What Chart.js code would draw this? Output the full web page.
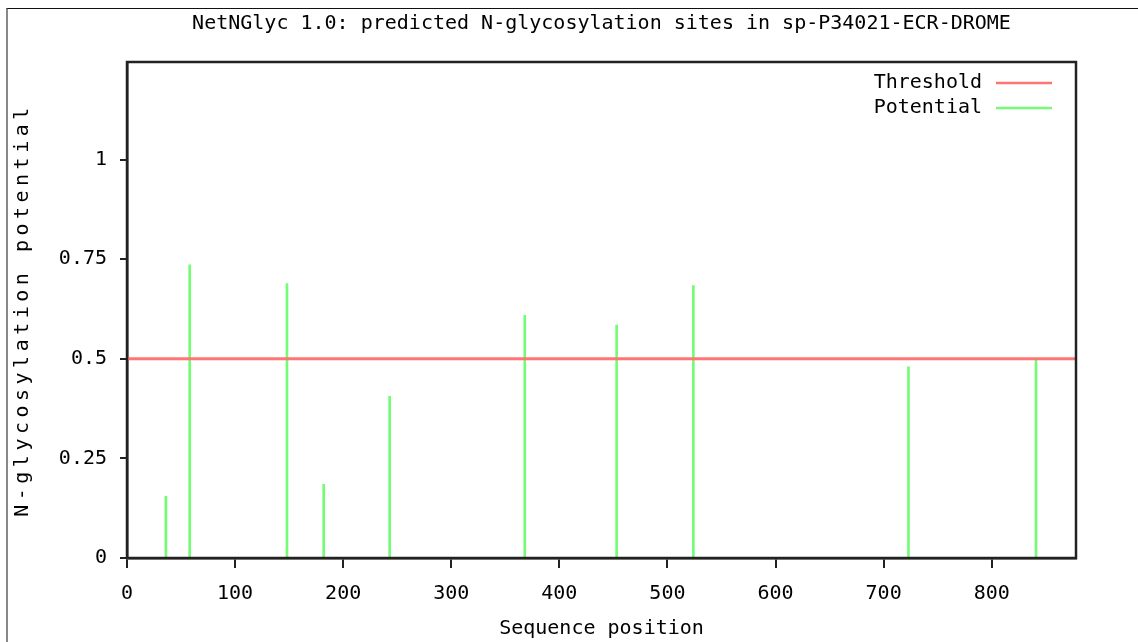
<!DOCTYPE html>
<html>
<head>
<meta charset="utf-8">
<script src="https://cdn.jsdelivr.net/npm/chart.js@4/dist/chart.umd.min.js"></script>
<style>
    html, body { margin: 0; padding: 0; background: #fff; overflow: hidden; }
    #wrap { position: relative; width: 1138px; height: 642px; }
    #frame {
        position: absolute; left: 6px; top: 8px; width: 1200px; height: 700px;
        border-top: 1px solid #111; border-left: 2px solid #888;
    }
    #myChart { position: absolute; left: 0; top: 0; }
</style>
</head>
<body>
<div id="wrap">
    <div id="frame"></div>
    <canvas id="myChart" width="1138" height="642"></canvas>
</div>
<script>
const chartTitle = "NetNGlyc 1.0: predicted N-glycosylation sites in sp-P34021-ECR-DROME";
const seqLength = 878;
const sitePositions = [36, 58, 148, 182, 243, 368, 453, 524, 723, 841];
const sitePotentials = [0.155, 0.736, 0.689, 0.185, 0.406, 0.609, 0.585, 0.684, 0.480, 0.498];
const thresholdValue = 0.5;
const xTickValues = [0, 100, 200, 300, 400, 500, 600, 700, 800];
const yTickValues = [0, 0.25, 0.5, 0.75, 1];
const yMax = 1.245;

const monoFont = "'DejaVu Sans Mono', 'Liberation Mono', monospace";
const fontSize = 20;
const axisColor = "#222";

// draws the legend as "label ——" at the top right of the plot
const rightLegend = {
    id: 'rightLegend',
    afterDraw(chart) {
        const ctx = chart.ctx;
        const area = chart.chartArea;
        ctx.save();
        ctx.font = fontSize + "px " + monoFont;
        ctx.textAlign = 'right';
        ctx.textBaseline = 'middle';
        chart.data.datasets.forEach((ds, i) => {
            const y = area.top + 21 + i * 25;
            ctx.fillStyle = "#000";
            ctx.fillText(ds.label, area.right - 94, y);
            ctx.strokeStyle = ds.legendColor;
            ctx.lineWidth = 2.5;
            ctx.beginPath();
            ctx.moveTo(area.right - 80, y);
            ctx.lineTo(area.right - 24, y);
            ctx.stroke();
        });
        ctx.restore();
    }
};

// box round the plot area, and wider letters on the y title
const plotBox = {
    id: 'plotBox',
    beforeDraw(chart) {
        const s = chart.scales.y;
        if (s && !s._spaced) {
            const orig = s.drawTitle;
            s.drawTitle = function () {
                this.ctx.letterSpacing = '4.5px';
                orig.call(this);
                this.ctx.letterSpacing = '0px';
            };
            s._spaced = true;
        }
    },
    afterDraw(chart) {
        const ctx = chart.ctx;
        const a = chart.chartArea;
        ctx.save();
        ctx.strokeStyle = axisColor;
        ctx.lineWidth = 2.5;
        ctx.strokeRect(a.left, a.top, a.right - a.left, a.bottom - a.top);
        ctx.restore();
    }
};

const potentialData = sitePositions.map((p, i) => ({ x: p, y: sitePotentials[i] }));
const thresholdData = [{ x: 0, y: thresholdValue }, { x: seqLength, y: thresholdValue }];

const ctx = document.getElementById('myChart').getContext('2d');
const myChart = new Chart(ctx, {
    type: 'bar',
    data: {
        datasets: [{
            type: 'line',
            label: 'Threshold',
            data: thresholdData,
            borderColor: '#ff7474',
            legendColor: '#ff7474',
            borderWidth: 3,
            pointRadius: 0,
            fill: false
        }, {
            type: 'bar',
            label: 'Potential',
            data: potentialData,
            backgroundColor: '#74fc74',
            legendColor: '#74fc74',
            borderWidth: 0,
            barThickness: 2
        }]
    },
    options: {
        responsive: false,
        animation: false,
        layout: {
            padding: { left: 0, right: 62, top: 0, bottom: 0 }
        },
        plugins: {
            legend: { display: false },
            tooltip: { enabled: false },
            title: {
                display: true,
                text: chartTitle,
                fullSize: false,
                color: '#000',
                font: { family: monoFont, size: fontSize, weight: 'normal' },
                padding: { top: 12, bottom: 26 }
            }
        },
        scales: {
            x: {
                type: 'linear',
                min: 0,
                max: seqLength,
                offset: false,
                afterFit: scale => { scale.height = 84; },
                afterBuildTicks: scale => {
                    scale.ticks = xTickValues.map(v => ({ value: v }));
                },
                grid: {
                    offset: false,
                    drawOnChartArea: false,
                    drawTicks: true,
                    tickLength: 10,
                    color: axisColor,
                    lineWidth: 2
                },
                border: { display: true, color: axisColor, width: 2.5 },
                ticks: {
                    color: '#000',
                    padding: 14,
                    maxRotation: 0,
                    autoSkip: false,
                    callback: v => String(v),
                    font: { family: monoFont, size: fontSize }
                },
                title: {
                    display: true,
                    text: 'Sequence position',
                    color: '#000',
                    font: { family: monoFont, size: fontSize },
                    padding: { top: 0, bottom: 1 }
                }
            },
            y: {
                min: 0,
                max: yMax,
                afterFit: scale => { scale.width = 127; },
                afterBuildTicks: scale => {
                    scale.ticks = yTickValues.map(v => ({ value: v }));
                },
                grid: {
                    drawOnChartArea: false,
                    drawTicks: true,
                    tickLength: 7,
                    color: axisColor,
                    lineWidth: 2
                },
                border: { display: true, color: axisColor, width: 2.5 },
                ticks: {
                    color: '#000',
                    padding: 13,
                    autoSkip: false,
                    callback: v => String(v),
                    font: { family: monoFont, size: fontSize }
                },
                title: {
                    display: true,
                    text: 'N-glycosylation potential',
                    color: '#000',
                    font: { family: monoFont, size: fontSize },
                    padding: { top: 11, bottom: 0 }
                }
            }
        }
    },
    plugins: [plotBox, rightLegend]
});
</script>
</body>
</html>
